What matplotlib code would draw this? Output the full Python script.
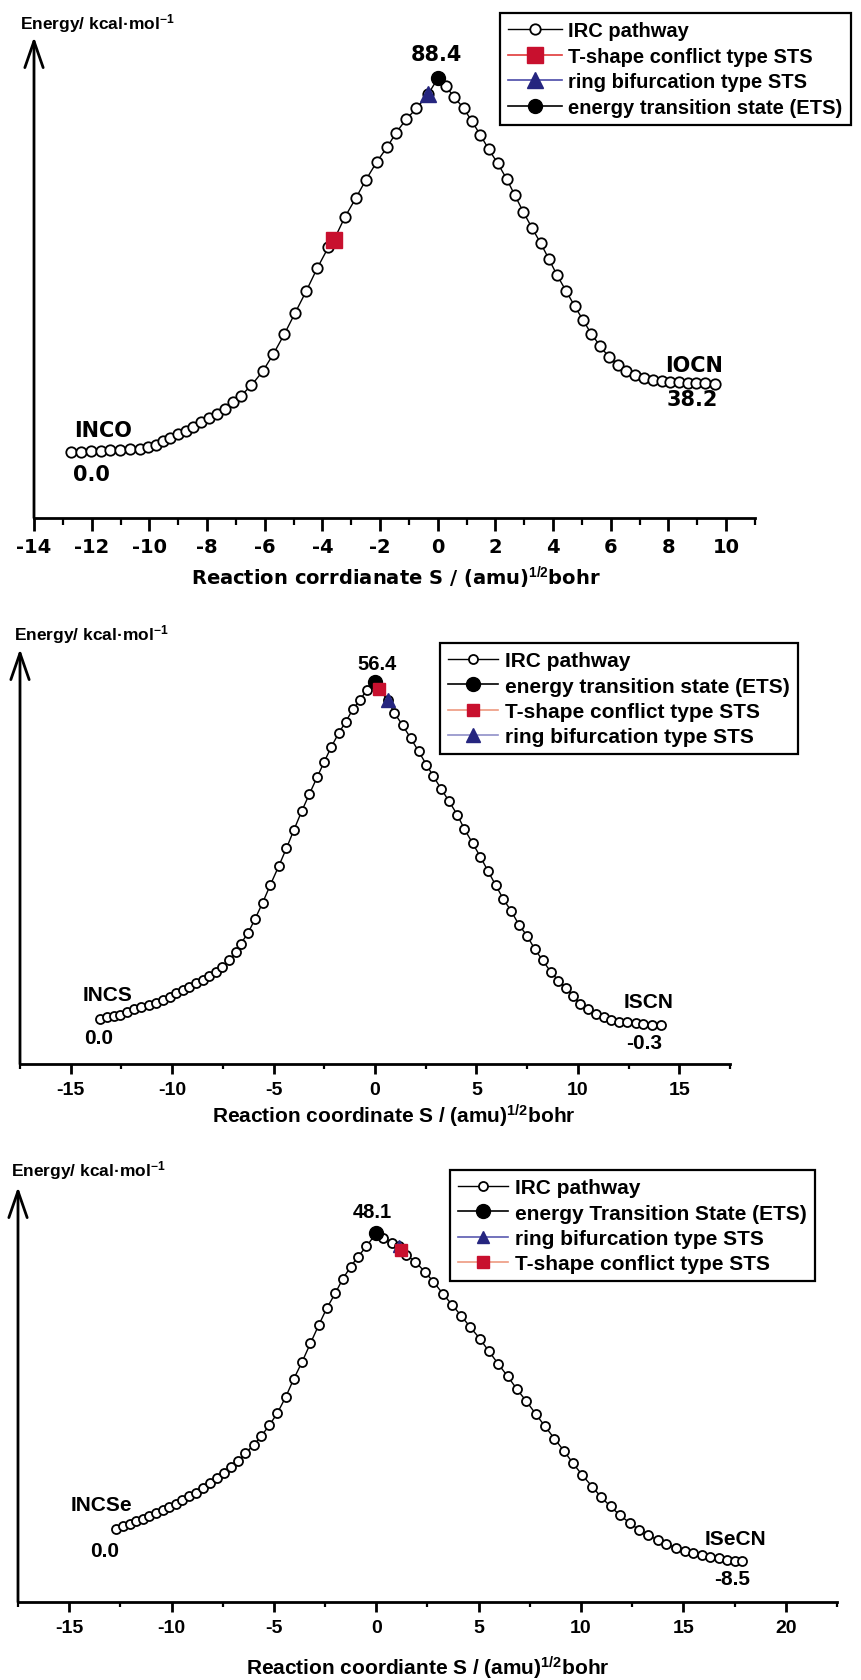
import numpy as np
import matplotlib
matplotlib.use("Agg")
import matplotlib.pyplot as plt
from matplotlib.ticker import MultipleLocator

plt.rcParams["axes.unicode_minus"] = False
plt.rcParams["mathtext.fontset"] = "custom"
plt.rcParams["mathtext.rm"] = "Liberation Sans:bold"
plt.rcParams["mathtext.it"] = "Liberation Sans:bold"
plt.rcParams["mathtext.bf"] = "Liberation Sans:bold"

WIDE = ["DejaVu Sans"]                      # panel (a) is letter-spaced: use the wider face
ARIAL = ["Liberation Sans", "DejaVu Sans"]
NARROW = ["Liberation Sans Narrow", "Liberation Sans", "DejaVu Sans"]

W, H = 862, 1681

# ---- panel (a): INCO -> IOCN, IRC points ----
S1 = [-12.70, -12.36, -12.03, -11.69, -11.36, -11.02, -10.68, -10.33, -10.03, -9.78,
      -9.53, -9.27, -9.00, -8.73, -8.47, -8.20, -7.93, -7.65, -7.38, -7.09,
      -6.83, -6.46, -6.06, -5.70, -5.32, -4.94, -4.56, -4.18, -3.79, -3.60,
      -3.22, -2.84, -2.50, -2.12, -1.75, -1.45, -1.10, -0.74, -0.34, 0.00,
      0.27, 0.57, 0.90, 1.18, 1.47, 1.76, 2.08, 2.39, 2.67, 2.96,
      3.26, 3.57, 3.85, 4.14, 4.45, 4.75, 5.04, 5.32, 5.63, 5.93,
      6.24, 6.54, 6.85, 7.15, 7.46, 7.76, 8.05, 8.36, 8.66, 8.97,
      9.27, 9.61]
E1 = [0.0, 0.1, 0.2, 0.2, 0.4, 0.6, 0.7, 0.8, 1.1, 1.7,
      2.5, 3.3, 4.2, 5.0, 6.0, 7.0, 8.0, 9.1, 10.3, 11.8,
      13.3, 15.8, 19.2, 23.2, 27.9, 33.0, 38.1, 43.5, 48.5, 50.2,
      55.6, 60.1, 64.3, 68.6, 72.2, 75.5, 78.7, 81.3, 84.6, 88.4,
      86.6, 84.0, 81.3, 78.3, 75.1, 71.7, 68.3, 64.6, 60.8, 56.9,
      53.1, 49.4, 45.7, 41.8, 38.1, 34.5, 31.2, 28.0, 25.1, 22.5,
      20.7, 19.2, 18.2, 17.5, 17.0, 16.8, 16.6, 16.5, 16.4, 16.3,
      16.3, 16.2]
ETS1, TSHAPE1, RING1 = (0.0, 88.4), (-3.60, 50.2), (-0.34, 84.6)

# ---- panel (b): INCS -> ISCN ----
S2 = [-13.55, -13.20, -12.87, -12.55, -12.22, -11.87, -11.52, -11.16, -10.81, -10.46,
      -10.13, -9.80, -9.48, -9.15, -8.83, -8.50, -8.18, -7.85, -7.52, -7.20,
      -6.87, -6.63, -6.27, -5.92, -5.54, -5.16, -4.75, -4.37, -3.99, -3.61,
      -3.23, -2.85, -2.50, -2.15, -1.79, -1.44, -1.09, -0.73, -0.41, 0.00,
      0.22, 0.62, 0.95, 1.36, 1.77, 2.15, 2.53, 2.88, 3.26, 3.64,
      4.05, 4.40, 4.81, 5.19, 5.57, 5.95, 6.33, 6.71, 7.09, 7.50,
      7.88, 8.26, 8.66, 9.04, 9.42, 9.78, 10.13, 10.51, 10.89, 11.27,
      11.65, 12.03, 12.41, 12.85, 13.23, 13.66, 14.10]
E2 = [0.00, 0.24, 0.48, 0.72, 1.20, 1.62, 1.92, 2.33, 2.69, 3.11,
      3.71, 4.31, 4.79, 5.33, 5.93, 6.59, 7.18, 7.90, 8.68, 9.80,
      11.20, 12.57, 14.31, 16.70, 19.46, 22.45, 25.56, 28.56, 31.73, 34.84,
      37.72, 40.53, 43.11, 45.62, 47.90, 49.81, 51.91, 53.52, 55.08, 56.40,
      55.32, 53.40, 51.31, 49.21, 47.00, 44.84, 42.63, 40.65, 38.56, 36.52,
      34.25, 31.85, 29.46, 27.18, 24.79, 22.39, 20.06, 18.08, 15.81, 13.89,
      11.67, 9.82, 7.90, 6.41, 5.15, 3.89, 2.51, 1.62, 0.84, 0.36,
      -0.24, -0.48, -0.60, -0.78, -0.90, -0.96, -0.96]
ETS2, TSHAPE2, RING2 = (0.0, 56.4), (0.22, 55.32), (0.62, 53.40)

# ---- panel (c): INCSe -> ISeCN ----
S3 = [-12.70, -12.38, -12.05, -11.73, -11.41, -11.09, -10.77, -10.44, -10.12, -9.80,
      -9.48, -9.15, -8.83, -8.46, -8.13, -7.79, -7.46, -7.09, -6.74, -6.39,
      -5.99, -5.64, -5.23, -4.83, -4.43, -4.03, -3.62, -3.22, -2.82, -2.42,
      -2.01, -1.64, -1.26, -0.89, -0.48, 0.00, 0.32, 0.75, 1.10, 1.23,
      1.45, 1.91, 2.36, 2.79, 3.25, 3.70, 4.16, 4.59, 5.05, 5.50,
      5.96, 6.42, 6.87, 7.33, 7.79, 8.24, 8.70, 9.15, 9.61, 10.07,
      10.55, 10.98, 11.44, 11.89, 12.38, 12.83, 13.29, 13.74, 14.17, 14.63,
      15.06, 15.49, 15.92, 16.32, 16.72, 17.13, 17.53, 17.88]
E3 = [0.00, 0.45, 0.84, 1.23, 1.68, 2.13, 2.58, 3.03, 3.53, 4.04,
      4.65, 5.27, 5.89, 6.62, 7.40, 8.24, 9.14, 10.09, 11.04, 12.33,
      13.62, 15.02, 16.82, 18.84, 21.42, 24.39, 27.19, 30.16, 33.08, 35.88,
      38.29, 40.64, 42.61, 44.29, 45.97, 48.10, 47.37, 46.53, 46.08, 45.30,
      44.57, 43.45, 41.82, 40.20, 38.23, 36.44, 34.59, 32.80, 30.95, 28.87,
      26.80, 24.78, 22.70, 20.74, 18.67, 16.65, 14.69, 12.73, 10.65, 8.69,
      6.84, 5.16, 3.64, 2.24, 0.95, -0.17, -1.01, -1.85, -2.52, -3.08,
      -3.53, -3.92, -4.26, -4.60, -4.82, -5.05, -5.16, -5.27]
ETS3, RING3, TSHAPE3 = (0.0, 48.1), (1.10, 46.08), (1.23, 45.30)

RED, NAVY = "#c8102e", "#25257f"

fig = plt.figure(figsize=(W / 100, H / 100), dpi=100)


def px_axes(l, t, r, b):
    return fig.add_axes([l / W, 1 - b / H, (r - l) / W, (b - t) / H])


def frame(ax, xlim, ylim, major, minor, fam, fs, mlen):
    ax.set_xlim(*xlim); ax.set_ylim(*ylim)
    for s in ("top", "right", "left"):
        ax.spines[s].set_visible(False)
    ax.spines["bottom"].set_linewidth(2.0)
    ax.set_yticks([])
    ax.xaxis.set_major_locator(MultipleLocator(major))
    ax.xaxis.set_minor_locator(MultipleLocator(minor))
    ax.tick_params(axis="x", which="major", direction="out", length=mlen, width=2.0, pad=5)
    ax.tick_params(axis="x", which="minor", direction="out", length=mlen * 0.55, width=1.6)
    for t in ax.get_xticklabels():
        t.set_fontfamily(fam); t.set_fontweight("bold"); t.set_fontsize(fs)
    ax.annotate("", xy=(0, 1), xytext=(0, 0), xycoords="axes fraction",
                arrowprops=dict(arrowstyle="->,head_length=0.95,head_width=0.33", lw=2.0,
                                color="black", shrinkA=0, shrinkB=0, mutation_scale=20),
                annotation_clip=False)


def irc(ax, S, E, ms):
    return ax.plot(S, E, "-", color="black", lw=1.0, marker="o", ms=ms, mfc="white",
                   mec="black", mew=1.3, zorder=2, label="IRC pathway")[0]


def special(ax, pt, marker, col, lcol, ms, label):
    return ax.plot([pt[0]], [pt[1]], "-", color=lcol, lw=1.2, marker=marker, ms=ms,
                   mfc=col, mec=col, zorder=4, label=label)[0]


def legend(ax, handles, l, t, fam, fs, hl, ls):
    leg = ax.legend(handles=handles, loc="upper left", bbox_to_anchor=(l / W, 1 - t / H),
                    bbox_transform=fig.transFigure, fancybox=False, edgecolor="black",
                    framealpha=1, borderaxespad=0, handlelength=hl, handletextpad=0.3,
                    labelspacing=ls, borderpad=0.4,
                    prop=dict(family=fam, weight="bold", size=fs))
    leg.get_frame().set_linewidth(1.6)


def label(ax, x, y, s, fam, fs):
    ax.text(x, y, s, ha="center", va="center", fontsize=fs, fontweight="bold", family=fam)


def figtext(x, y, s, fam, fs, ha="left"):
    fig.text(x / W, 1 - y / H, s, ha=ha, va="center", fontsize=fs, fontweight="bold", family=fam)


# ---------- panel (a) ----------
ax1 = px_axes(34, 38, 755, 519)
h_irc = irc(ax1, S1, E1, 7.5)
h_t = special(ax1, TSHAPE1, "s", RED, "#e03a3a", 11, "T-shape conflict type STS")
h_r = special(ax1, RING1, "^", NAVY, "#4a4aa8", 11, "ring bifurcation type STS")
h_e = special(ax1, ETS1, "o", "black", "black", 10, "energy transition state (ETS)")
frame(ax1, (-14, 11), (-15.6, 98.2), 2, 1, WIDE, 14, 9)
legend(ax1, [h_irc, h_t, h_r, h_e], 500, 14, ARIAL, 14.5, 2.7, 0.33)
label(ax1, -0.03, 94.2, "88.4", WIDE, 15)
label(ax1, -11.61, 5.2, "INCO", WIDE, 15)
label(ax1, -12.02, -5.2, "0.0", WIDE, 15)
label(ax1, 8.88, 20.6, "IOCN", WIDE, 15)
label(ax1, 8.82, 12.5, "38.2", WIDE, 15)
figtext(20, 24, r"Energy/ kcal·mol$^{-1}$", ARIAL, 12.5)
figtext(396, 578, r"Reaction corrdianate S / (amu)$^{1/2}$bohr", WIDE, 14, ha="center")

# ---------- panel (b) ----------
ax2 = px_axes(20, 650, 730, 1065)
h_irc = irc(ax2, S2, E2, 6.5)
h_e = special(ax2, ETS2, "o", "black", "black", 10, "energy transition state (ETS)")
h_t = special(ax2, TSHAPE2, "s", RED, "#ee9a80", 9, "T-shape conflict type STS")
h_r = special(ax2, RING2, "^", NAVY, "#9090c8", 10, "ring bifurcation type STS")
frame(ax2, (-17.5, 17.5), (-7.57, 62.0), 5, 2.5, NARROW, 14, 7)
legend(ax2, [h_irc, h_e, h_t, h_r], 440, 644, NARROW, 15, 2.4, 0.3)
label(ax2, 0.11, 59.5, "56.4", NARROW, 14.5)
label(ax2, -13.2, 4.0, "INCS", NARROW, 15)
label(ax2, -13.6, -3.05, "0.0", NARROW, 15)
label(ax2, 13.47, 2.9, "ISCN", NARROW, 15)
label(ax2, 13.28, -3.9, "-0.3", NARROW, 15)
figtext(14, 635, r"Energy/ kcal·mol$^{-1}$", NARROW, 12.5)
figtext(394, 1116, r"Reaction coordinate S / (amu)$^{1/2}$bohr", NARROW, 15, ha="center")

# ---------- panel (c) ----------
ax3 = px_axes(18, 1188, 837, 1603)
h_irc = irc(ax3, S3, E3, 6.5)
h_e = special(ax3, ETS3, "o", "black", "black", 10, "energy Transition State (ETS)")
h_r = special(ax3, RING3, "^", NAVY, "#5a5ab0", 9, "ring bifurcation type STS")
h_t = special(ax3, TSHAPE3, "s", RED, "#ee9a80", 9, "T-shape conflict type STS")
frame(ax3, (-17.5, 22.5), (-11.9, 55.6), 5, 2.5, NARROW, 14, 7)
legend(ax3, [h_irc, h_e, h_r, h_t], 450, 1171, NARROW, 15, 2.4, 0.3)
label(ax3, -0.21, 51.6, "48.1", NARROW, 14.5)
label(ax3, -13.42, 3.9, "INCSe", NARROW, 15)
label(ax3, -13.29, -3.5, "0.0", NARROW, 15)
label(ax3, 17.56, -1.5, "ISeCN", NARROW, 15)
label(ax3, 17.37, -8.1, "-8.5", NARROW, 15)
figtext(11, 1171, r"Energy/ kcal·mol$^{-1}$", NARROW, 12.5)
figtext(428, 1668, r"Reaction coordiante S / (amu)$^{1/2}$bohr", NARROW, 15, ha="center")

fig.savefig("out.png", dpi=100)
